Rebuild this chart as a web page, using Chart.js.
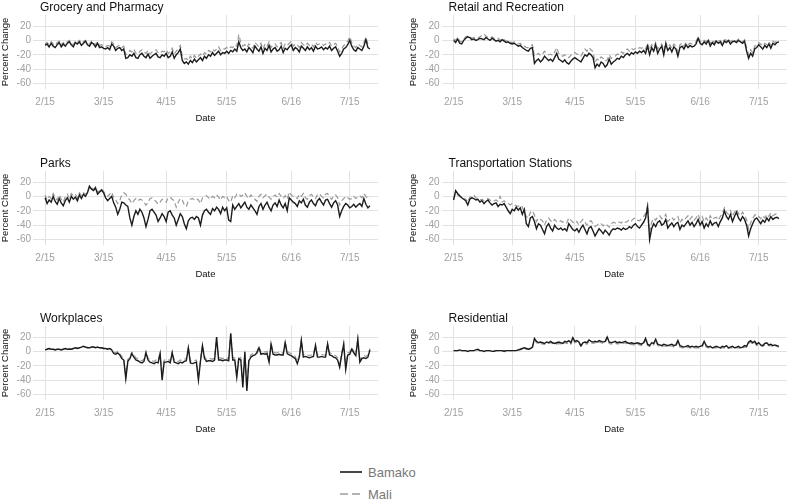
<!DOCTYPE html>
<html><head><meta charset="utf-8">
<script src="https://cdn.jsdelivr.net/npm/chart.js@4.4.1/dist/chart.umd.min.js"></script>
<style>
html,body{margin:0;padding:0;background:#fff;width:787px;height:503px;overflow:hidden;font-family:"Liberation Sans",Arial,sans-serif;}
canvas{position:absolute;}
#legend{position:absolute;left:340px;top:461px;}
.item{display:flex;align-items:center;height:22px;}
.item span{font-size:13px;color:#777;margin-left:6px;}
</style></head><body>
<canvas id="c0" width="385" height="124" style="left:0px;top:0px"></canvas>
<canvas id="c1" width="379" height="124" style="left:408px;top:0px"></canvas>
<canvas id="c2" width="385" height="124" style="left:0px;top:156px"></canvas>
<canvas id="c3" width="379" height="124" style="left:408px;top:156px"></canvas>
<canvas id="c4" width="385" height="124" style="left:0px;top:311px"></canvas>
<canvas id="c5" width="379" height="124" style="left:408px;top:311px"></canvas>
<div id="legend">
 <div class="item"><svg width="22" height="4"><line x1="0" y1="2" x2="22" y2="2" stroke="#1a1a1a" stroke-width="1.6"/></svg><span>Bamako</span></div>
 <div class="item"><svg width="22" height="4"><line x1="0" y1="2" x2="22" y2="2" stroke="#9a9a9a" stroke-width="1.3" stroke-dasharray="8,4"/></svg><span>Mali</span></div>
</div>
<script>
const tickDays = [0, 29, 60, 90, 122, 151];
const tickLabels = ['2/15','3/15','4/15','5/15','6/16','7/15'];
const yTicks = [-60,-40,-20,0,20];
const seriesNames = ['Bamako','Mali'];
const panelTitles = ['Grocery and Pharmacy','Retail and Recreation','Parks','Transportation Stations','Workplaces','Residential'];

const groceryBamako = [
-7,-5,-9,-4,-8,-10,-6,-3,-9,-5,
-8,-4,-2,-6,-9,-3,-5,-2,-7,-4,
-1,-6,-8,-3,-5,-9,-4,-10,-9,-11,
-12,-10,-13,-5,-8,-14,-11,-10,-14,-12,
-25,-24,-20,-22,-18,-24,-25,-20,-18,-22,
-24,-19,-25,-22,-20,-18,-23,-24,-20,-22,
-18,-24,-22,-16,-25,-20,-17,-12,-28,-32,
-30,-33,-28,-31,-26,-30,-27,-24,-28,-22,
-25,-20,-22,-17,-21,-18,-15,-20,-17,-18,
-15,-18,-14,-16,-12,-15,-2,-10,-14,-12,
-16,-10,-13,-17,-8,-12,-15,-9,-18,-11,
-14,-7,-16,-12,-10,-15,-13,-8,-17,-11,
-13,-9,-6,-14,-10,-12,-16,-8,-11,-14,
-9,-13,-10,-15,-8,-12,-11,-9,-13,-10,
-12,-8,-14,-11,-9,-15,-22,-18,-12,-10,
-6,0,-8,-13,-15,-10,-12,-14,-8,1,
-10,-12];
const groceryMali = [
-5,-3,-6,-2,-5,-7,-3,-1,-6,-3,
-5,-2,0,-4,-6,-1,-3,0,-4,-2,
0,-3,-5,-1,-3,-6,-2,-7,-6,-8,
-9,-7,-8,-2,-5,-10,-8,-7,-10,-8,
-20,-18,-14,-16,-12,-18,-19,-15,-13,-16,
-18,-14,-19,-16,-15,-13,-17,-18,-15,-16,
-13,-18,-16,-11,-19,-15,-12,-7,-22,-26,
-25,-28,-22,-26,-21,-25,-22,-19,-22,-17,
-19,-14,-16,-12,-15,-12,-9,-14,-11,-12,
-10,-12,-9,-10,-6,-8,8,-3,-8,-6,
-10,-5,-7,-11,-3,-6,-9,-4,-12,-5,
-8,-2,-10,-6,-5,-9,-7,-3,-11,-5,
-7,-4,-1,-8,-5,-6,-10,-3,-6,-8,
-4,-7,-5,-9,-3,-6,-5,-4,-7,-5,
-6,-3,-8,-6,-4,-9,-16,-12,-7,-5,
-1,5,-3,-8,-10,-5,-7,-9,-3,4,
-5,-7];
const retailBamako = [
0,-3,2,-4,-5,0,3,5,4,1,
2,0,1,3,2,1,4,2,0,3,
1,-1,0,-2,1,-1,-3,-2,-4,-5,
-4,-6,-8,-7,-10,-12,-14,-15,-11,-10,
-32,-28,-26,-30,-27,-22,-25,-28,-26,-29,
-24,-18,-26,-28,-30,-27,-31,-33,-29,-26,
-24,-26,-28,-30,-25,-20,-22,-18,-20,-24,
-38,-33,-36,-30,-32,-37,-34,-26,-33,-30,
-28,-25,-26,-22,-24,-20,-18,-21,-17,-19,
-16,-18,-15,-17,-14,-18,-8,-20,-10,-15,
-6,-18,-12,-8,-20,-5,-14,-10,-16,-9,
-12,-22,-10,-8,-12,-6,-10,-7,-9,-8,
-5,3,-4,-6,-2,-5,0,-8,-3,-6,
-1,-4,-2,-7,-1,-3,0,-5,-2,-1,
-3,0,-2,-4,-1,-15,-25,-18,-22,-12,
-10,-6,-9,-12,-7,-10,-5,-11,-4,-6,
-3,-2];
const retailMali = [
2,0,4,-1,-2,2,5,6,5,3,
4,2,3,5,7,9,6,4,3,5,
3,2,3,0,3,1,-1,0,-2,-3,
-2,-4,-5,-4,-7,-8,-10,-10,-8,-6,
-22,-20,-18,-21,-19,-15,-18,-20,-19,-21,
-16,-10,-18,-20,-22,-20,-23,-24,-21,-18,
-17,-19,-20,-22,-17,-12,-15,-10,-13,-16,
-30,-26,-28,-23,-25,-29,-27,-20,-25,-23,
-22,-19,-20,-16,-18,-14,-12,-15,-11,-13,
-11,-12,-10,-11,-9,-12,-4,-13,-6,-10,
-3,-12,-8,-5,-14,-2,-9,-6,-11,-5,
-8,-16,-6,-4,-8,-3,-6,-4,-5,-4,
-2,5,-1,-3,0,-2,2,-4,0,-3,
1,-1,0,-4,1,0,2,-2,0,1,
-1,2,0,-2,1,-10,-20,-13,-17,-8,
-6,-3,-5,-8,-4,-6,-2,-7,-1,-3,
-1,0];
const parksBamako = [
-2,-10,-5,-8,0,-7,-11,-3,-9,-13,
-6,-2,-8,0,-4,-1,-6,2,-3,3,
0,5,14,10,8,12,3,6,9,5,
-2,-6,-3,0,-9,-15,-25,-18,-8,-9,
-12,-14,-30,-40,-28,-20,-25,-18,-22,-30,
-42,-32,-20,-18,-22,-26,-35,-30,-24,-28,
-35,-22,-20,-26,-30,-40,-32,-24,-28,-38,
-45,-34,-30,-29,-32,-28,-30,-40,-26,-20,
-18,-22,-25,-17,-20,-15,-18,-24,-15,-20,
-16,-33,-35,-12,-18,-14,-10,-16,-12,-8,
-15,-18,-12,-16,-20,-25,-14,-10,-18,-12,
-8,-15,-20,-12,-9,-14,-5,-12,-16,-10,
-20,-2,-5,-8,-10,-14,-6,-9,-4,-12,
-15,-8,-5,-10,-13,-6,-3,-8,-12,-5,
-4,-10,-15,-9,-6,-12,-28,-20,-14,-10,
-12,-16,-14,-11,-15,-12,-10,-14,-3,-11,
-16,-13];
const parksMali = [
2,-5,0,-3,4,-2,-5,2,-4,-8,
-1,3,-3,4,1,3,-2,5,1,5,
3,7,15,12,10,13,6,8,10,7,
2,0,3,6,-2,-5,-10,-6,2,5,
3,-2,-5,-10,-6,-3,-6,-4,-5,-8,
-12,-9,-3,-2,-5,-7,-11,-8,-4,-6,
-8,-2,-1,-4,-6,-15,-8,-3,-5,-12,
-14,-6,-4,-3,-5,-3,-5,-10,-2,0,
1,-2,-4,0,-2,2,-1,-5,0,-2,
0,-6,-8,1,-2,3,4,0,2,5,
0,-3,2,-1,-4,-7,0,3,-2,1,
3,-1,-4,0,2,-1,4,0,-3,1,
-4,6,2,0,-1,-3,3,0,4,-2,
-4,1,3,-1,-3,2,4,0,-2,3,
4,-1,-4,0,2,-2,-12,-6,-3,0,
-2,-4,-3,0,-3,-1,1,-2,4,0,
-3,-2];
const transitBamako = [
-5,8,4,1,-2,-4,-6,-12,-4,-2,
-3,-5,-4,-8,-6,-10,-7,-5,-9,-12,
-10,-9,-14,-11,-12,-10,-15,-20,-24,-18,
-20,-15,-19,-16,-25,-18,-38,-42,-30,-28,
-35,-45,-38,-40,-46,-52,-42,-38,-44,-48,
-40,-44,-46,-44,-47,-45,-48,-38,-42,-46,
-48,-45,-50,-44,-40,-46,-52,-44,-42,-48,
-55,-50,-45,-48,-52,-47,-50,-54,-48,-45,
-46,-44,-45,-47,-44,-46,-45,-42,-44,-40,
-38,-42,-44,-40,-36,-30,-15,-60,-45,-38,
-42,-36,-34,-40,-38,-32,-44,-40,-37,-42,
-38,-36,-46,-40,-42,-38,-34,-40,-36,-42,
-38,-32,-40,-35,-44,-38,-42,-34,-40,-37,
-36,-42,-35,-30,-20,-28,-32,-25,-35,-28,
-22,-30,-34,-28,-32,-40,-55,-45,-38,-32,
-30,-34,-38,-33,-36,-30,-34,-28,-32,-30,
-29,-31];
const transitMali = [
-3,5,2,0,-1,-3,-4,-8,-1,0,
2,-2,-3,-5,-4,-6,-5,-3,-5,-7,
-6,-5,-7,0,-8,-6,-9,-10,-12,-10,
-12,-13,-14,-12,-15,-22,-28,-30,-22,-20,
-26,-35,-30,-32,-34,-40,-33,-30,-34,-36,
-32,-35,-36,-34,-36,-35,-37,-30,-33,-36,
-38,-35,-40,-35,-32,-36,-40,-35,-34,-38,
-42,-40,-37,-38,-41,-38,-40,-43,-38,-36,
-37,-35,-36,-37,-34,-36,-35,-32,-34,-31,
-30,-33,-34,-31,-28,-24,-12,-50,-36,-30,
-33,-28,-27,-31,-30,-25,-35,-32,-29,-33,
-30,-28,-37,-32,-34,-30,-27,-32,-28,-33,
-30,-25,-32,-28,-35,-30,-34,-27,-32,-30,
-29,-33,-28,-24,-16,-22,-25,-20,-28,-22,
-18,-24,-27,-22,-26,-32,-45,-37,-31,-26,
-25,-28,-31,-27,-30,-25,-28,-23,-27,-25,
-24,-26];
const workBamako = [
2,3,4,3,3,2,3,3,2,3,
4,3,3,3,4,5,4,5,6,7,
6,5,5,6,6,5,6,5,5,4,
4,3,4,2,-3,-4,-2,-5,-10,-12,
-38,-14,-10,-3,-8,-12,-13,-15,-16,-14,
-2,-12,-15,-16,-17,-15,-16,-3,-40,-15,
-15,-14,-16,-2,-15,-16,-17,-15,-16,-14,
-13,5,-16,-17,-16,-15,-40,-14,8,-10,
-14,-13,-13,-14,-12,20,-12,-12,-13,-12,
-12,-13,25,-12,-12,-36,-10,-12,-50,-1,
-55,-13,-8,-6,-5,-2,5,-4,-3,-4,
-3,-15,10,-4,-5,-5,-4,-5,-5,12,
-3,-5,-6,-8,-10,-17,-8,15,-8,-7,
-8,-9,-8,-7,8,-8,-8,-7,-8,-8,
10,-5,-6,-8,-9,-12,-22,-5,10,-25,
-5,-4,3,-2,-6,17,-15,-10,-9,-10,
-8,2];
const workMali = [
2,3,4,3,3,3,3,3,3,3,
4,3,4,3,4,5,5,5,6,7,
6,6,5,6,6,6,6,5,5,5,
4,4,4,3,-1,-2,0,-3,-7,-9,
-36,-11,-7,-1,-5,-9,-10,-12,-13,-11,
0,-9,-12,-13,-14,-12,-13,-1,-37,-12,
-12,-11,-13,0,-12,-13,-14,-12,-13,-11,
-10,6,-13,-14,-13,-12,-37,-11,9,-7,
-11,-10,-10,-11,-9,20,-9,-9,-10,-9,
-9,-10,24,-9,-9,-32,-7,-9,-45,1,
-50,-10,-5,-3,-2,0,7,-1,0,-1,
0,-12,12,-1,-2,-2,-1,-2,-2,14,
0,-2,-3,-5,-7,-14,-5,16,-5,-4,
-5,-6,-5,-4,10,-5,-5,-4,-5,-5,
12,-2,-3,-5,-6,-9,-19,-2,11,-22,
-2,-1,5,0,-3,17,-12,-7,-6,-7,
-5,4];
const resBamako = [
1,1,1,2,1,1,1,0,1,1,
1,2,3,1,1,0,1,1,1,0,
0,1,1,1,1,0,1,1,1,1,
1,1,2,3,4,5,4,3,4,6,
18,14,12,13,12,11,13,12,14,12,
11,12,13,12,11,14,13,15,12,19,
14,15,13,8,12,13,12,16,14,13,
14,13,15,14,13,14,20,13,12,13,
14,12,13,12,13,14,12,11,12,11,
11,12,11,10,12,18,10,8,12,11,
17,10,9,8,10,9,8,9,10,8,
9,15,8,7,6,7,8,6,7,6,
7,6,7,8,14,8,6,7,5,6,
7,6,5,7,6,8,5,6,7,5,
6,7,5,6,8,7,13,15,12,14,
10,12,9,8,11,12,9,10,8,9,
8,7];
const resMali = [
1,1,1,1,1,1,1,1,1,1,
1,1,2,1,1,1,1,1,1,1,
1,1,1,1,1,1,1,1,1,1,
1,1,2,2,3,4,3,3,3,5,
16,12,11,11,10,10,11,11,12,11,
10,10,11,10,10,12,11,13,10,17,
12,13,11,7,10,11,10,14,12,11,
12,11,13,12,11,12,18,11,10,11,
12,10,11,10,11,12,10,9,10,9,
9,10,9,8,10,16,8,7,10,9,
15,8,7,6,8,7,6,7,8,6,
7,13,6,5,5,5,6,5,5,5,
5,5,5,6,12,6,5,5,4,5,
5,5,4,5,5,6,4,5,5,4,
5,5,4,5,6,6,11,13,10,12,
8,10,8,7,9,10,8,8,7,8,
7,6];

const F = '"Liberation Sans", Arial, sans-serif';
const panelTitle = {
  id: 'panelTitle',
  afterDraw(chart, args, opts) {
    const ctx = chart.ctx, a = chart.chartArea;
    ctx.save();
    ctx.font = '12px ' + F;
    ctx.fillStyle = '#111';
    ctx.textBaseline = 'alphabetic';
    ctx.textAlign = 'left';
    ctx.fillText(opts.text, a.left + 7, a.top - 4);
    ctx.restore();
  }
};

const panels = [
  {id:'c0', title:panelTitles[0], a:groceryBamako, b:groceryMali, yw:33, pr:7},
  {id:'c1', title:panelTitles[1], a:retailBamako, b:retailMali, yw:33.5, pr:0},
  {id:'c2', title:panelTitles[2], a:parksBamako, b:parksMali, yw:33, pr:7},
  {id:'c3', title:panelTitles[3], a:transitBamako, b:transitMali, yw:33.5, pr:0},
  {id:'c4', title:panelTitles[4], a:workBamako, b:workMali, yw:33, pr:7},
  {id:'c5', title:panelTitles[5], a:resBamako, b:resMali, yw:33.5, pr:0}
];

const gridColor = '#e2e2e2';
const tickColor = '#a0a0a0';

panels.forEach(p => {
  new Chart(document.getElementById(p.id), {
    type: 'line',
    data: {
      datasets: [
        {label: seriesNames[0], data: p.a.map((v,i)=>({x:i, y:v})), borderColor:'#1c1c1c', borderWidth:1.4, pointRadius:0, tension:0, fill:false, order:1},
        {label: seriesNames[1], data: p.b.map((v,i)=>({x:i, y:v})), borderColor:'#999999', borderWidth:1.2, borderDash:[5,3], pointRadius:0, tension:0, fill:false, order:2}
      ]
    },
    options: {
      responsive:false, animation:false, devicePixelRatio:1,
      layout:{padding:{top:15, right:p.pr, bottom:0, left:0}},
      plugins:{legend:{display:false}, tooltip:{enabled:false}, panelTitle:{text:p.title}},
      scales:{
        x:{
          type:'linear', min:-6, max:165,
          afterBuildTicks(s){ s.ticks = tickDays.map(v=>({value:v})); },
          afterFit(s){ s.height = 35; },
          ticks:{callback:(v)=>tickLabels[tickDays.indexOf(v)], color:tickColor, font:{size:10, family:F}, padding:7, maxRotation:0, autoSkip:false},
          grid:{color:gridColor, lineWidth:1, drawTicks:false},
          border:{display:false},
          title:{display:true, text:'Date', color:'#111', font:{size:9.5, family:F}, padding:{top:0, bottom:0}}
        },
        y:{
          min:-67.6, max:35.3,
          afterBuildTicks(s){ s.ticks = yTicks.map(v=>({value:v})); },
          afterFit(s){ s.width = p.yw; },
          ticks:{color:tickColor, font:{size:10, family:F}, padding:2},
          grid:{color:gridColor, lineWidth:1, drawTicks:false},
          border:{display:false},
          title:{display:true, text:'Percent Change', color:'#111', font:{size:9.5, family:F}, padding:{top:0, bottom:0}}
        }
      }
    },
    plugins:[panelTitle]
  });
});
</script>
</body></html>
